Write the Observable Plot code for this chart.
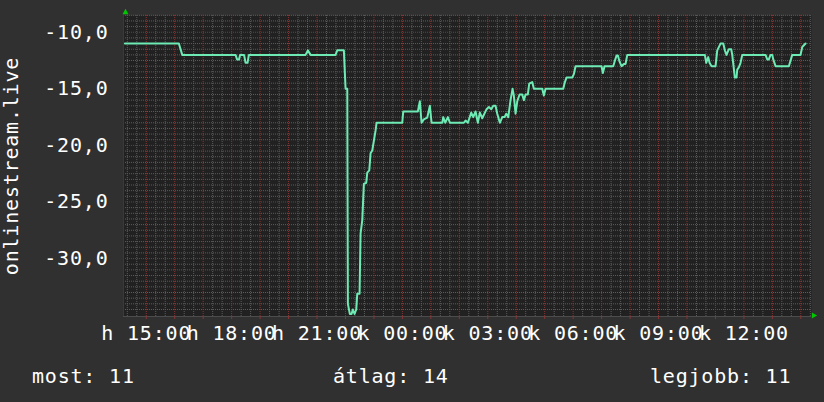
<!DOCTYPE html>
<html><head><meta charset="utf-8">
<script src="https://cdn.jsdelivr.net/npm/d3@7"></script>
<script src="https://cdn.jsdelivr.net/npm/@observablehq/plot@0.6"></script>
<style>
html,body{margin:0;padding:0;background:#303030;}
#wrap{position:relative;width:824px;height:402px;overflow:hidden;font-family:"DejaVu Sans Mono",monospace;background:#303030;}
#chart svg{display:block;}
#legend{position:absolute;left:0;top:352px;width:824px;height:50px;color:#fff;font-size:20px;letter-spacing:0.8px;}
#legend span{position:absolute;top:14px;line-height:20px;white-space:pre;}
</style></head><body>
<div id="wrap"><div id="chart"></div><div id="legend"></div></div>
<script>
// time in hours since Monday 00:00 (h = hétfő, k = kedd)
const hoursSinceMonday = [
  14.25, 16.145, 16.205, 16.265, 18.138, 18.19, 18.26, 18.296, 18.436, 18.489,
  18.559, 18.605, 20.597, 20.678, 20.773, 21.651, 21.711, 21.943, 22.003, 22.063,
  22.084, 22.154, 22.213, 22.259, 22.319, 22.379, 22.414, 22.495, 22.53, 22.59,
  22.646, 22.73, 22.765, 22.836, 22.881, 22.941, 22.997, 23.057, 23.092, 23.995,
  24.03, 24.543, 24.613, 24.673, 24.754, 24.873, 24.965, 25.025, 25.4, 25.436,
  25.506, 25.597, 25.668, 26.16, 26.219, 26.3, 26.419, 26.49, 26.571, 26.651,
  26.722, 26.806, 26.957, 27.038, 27.122, 27.193, 27.273, 27.333, 27.424, 27.509,
  27.59, 27.649, 27.72, 27.8, 27.871, 27.916, 27.976, 28.036, 28.117, 28.211,
  28.268, 28.327, 28.408, 28.457, 28.563, 28.619, 28.914, 28.97, 29.03, 29.652,
  29.698, 29.768, 29.968, 30.025, 30.084, 30.998, 31.044, 31.103, 31.409, 31.455,
  31.525, 31.571, 31.631, 31.701, 31.782, 31.842, 31.901, 34.627, 34.676, 34.747,
  34.792, 34.863, 35.004, 35.063, 35.179, 35.274, 35.33, 35.39, 35.47, 35.555,
  35.59, 35.682, 35.741, 35.766, 35.822, 35.882, 35.942, 36.76, 36.82, 36.876,
  36.936, 36.996, 37.031, 37.112, 37.579, 37.639, 37.698, 37.99, 38.05, 38.166
];
const values = [
  -11, -11, -11.5, -12, -12, -12.4, -12.4, -12, -12, -12.7,
  -12.7, -12, -12, -11.6, -12, -12, -11.6, -11.6, -15, -15,
  -34, -34.9, -34.9, -34.5, -34.9, -34.5, -33.1, -33.1, -27.8, -26.6,
  -23.4, -23.3, -22.4, -22.2, -20.7, -20.45, -19.6, -18.7, -18, -18,
  -17, -17, -16.1, -18, -17.7, -17.55, -16.5, -18, -18, -17.5,
  -18, -17.5, -18, -18, -17.8, -18, -17.1, -17.5, -17, -18,
  -17.1, -17.6, -16.8, -16.6, -16.8, -16.5, -16.5, -17.2, -18, -17.5,
  -17.5, -17.2, -17.5, -16, -15, -15.6, -17.2, -16.1, -15.5, -15.5,
  -16, -15.5, -15.5, -14.55, -14.4, -15, -15, -15.6, -15, -15,
  -14.5, -14, -14, -13.7, -13, -13, -13.6, -13, -13, -12.6,
  -12.05, -12.05, -12.6, -13, -12.8, -12.8, -12, -12, -12.7, -12.2,
  -12.7, -13, -13, -11.6, -11, -11, -11.6, -12, -11.5, -11.5,
  -12, -14, -14, -13.3, -13.1, -12.7, -12, -12, -12.4, -12.4,
  -12, -12, -12.4, -13, -13, -12.5, -12, -12, -11.3, -11
];
const tickHours = [15, 18, 21, 24, 27, 30, 33, 36];
const tickLabels = ["h 15:00", "h 18:00", "h 21:00", "k 00:00", "k 03:00", "k 06:00", "k 09:00", "k 12:00"];
const yTicks = [-10, -15, -20, -25, -30];
const yTickLabels = ["-10,0", "-15,0", "-20,0", "-25,0", "-30,0"];
const yLabel = "onlinestream.live";
const legendLabels = ["most: 11", "átlag: 14", "legjobb: 11"];
const xDomain = [14.2, 38.375];
const yDomain = [-35.12, -8.52];

const data = hoursSinceMonday.map((h, i) => ({h, v: values[i]}));

// grid positions
const majorX = d3.range(15, 39);
const minorX = d3.range(43, 116).filter(i => i % 3 !== 0).map(i => i / 3);
const minorY = d3.range(-70, -16).filter(i => i % 10 !== 0).map(i => i / 2);

const triUp = {draw(ctx, size) { const s = Math.sqrt(size); ctx.moveTo(0, -s * 0.5); ctx.lineTo(s * 0.55, s * 0.5); ctx.lineTo(-s * 0.55, s * 0.5); ctx.closePath(); }};
const triRight = {draw(ctx, size) { const s = Math.sqrt(size); ctx.moveTo(s * 0.5, 0); ctx.lineTo(-s * 0.5, s * 0.55); ctx.lineTo(-s * 0.5, -s * 0.55); ctx.closePath(); }};

const minorStyle = {stroke: "#5c5c5c", strokeOpacity: 1, strokeDasharray: "1,1"};
const majorStyle = {stroke: "#8a3434", strokeOpacity: 1, strokeDasharray: "1,1"};

const chart = Plot.plot({
  width: 824, height: 352,
  marginLeft: 123, marginRight: 13, marginTop: 15, marginBottom: 36,
  style: {background: "#303030", color: "#ffffff", fontFamily: "DejaVu Sans Mono, monospace", fontSize: "20px", letterSpacing: "0.8px", overflow: "visible"},
  x: {type: "linear", domain: xDomain, axis: null, label: null},
  y: {domain: yDomain, axis: null, label: null},
  marks: [
    Plot.frame({fill: "#212121", stroke: null}),
    Plot.gridX(minorX, minorStyle),
    Plot.gridY(minorY, minorStyle),
    Plot.gridX(majorX, majorStyle),
    Plot.gridY(yTicks, majorStyle),
    Plot.ruleY([yDomain[0]], {stroke: "#4c4c4c"}),
    Plot.ruleX([xDomain[0]], {stroke: "#3a3a3a"}),
    Plot.axisX(majorX, {tickSize: 3, stroke: "#8a3434", tickFormat: () => "", label: null}),
    Plot.axisX(tickHours, {tickSize: 0, tickPadding: 9, tickFormat: d => tickLabels[tickHours.indexOf(d)], fill: "#ffffff", label: null}),
    Plot.axisY(yTicks, {tickSize: 0, tickPadding: 15, tickFormat: d => yTickLabels[yTicks.indexOf(d)], fill: "#ffffff", label: null}),
    Plot.line(data, {x: "h", y: "v", stroke: "#6eeab4", strokeWidth: 2}),
    Plot.text([yLabel], {frameAnchor: "left", rotate: -90, dx: -120, lineAnchor: "top", textAnchor: "middle", fill: "#ffffff"}),
    Plot.dot(["up"], {frameAnchor: "top-left", symbol: triUp, r: 3, fill: "#00c800", stroke: null, dx: 2, dy: -4}),
    Plot.dot(["right"], {frameAnchor: "bottom-right", symbol: triRight, r: 3, fill: "#00c800", stroke: null, dx: 3, dy: -1})
  ]
});
document.getElementById("chart").appendChild(chart);

const legendLeft = [32, 333, 650];
const legend = document.getElementById("legend");
legendLabels.forEach((t, i) => {
  const s = document.createElement("span");
  s.textContent = t;
  s.style.left = legendLeft[i] + "px";
  legend.appendChild(s);
});
</script>
</body></html>
